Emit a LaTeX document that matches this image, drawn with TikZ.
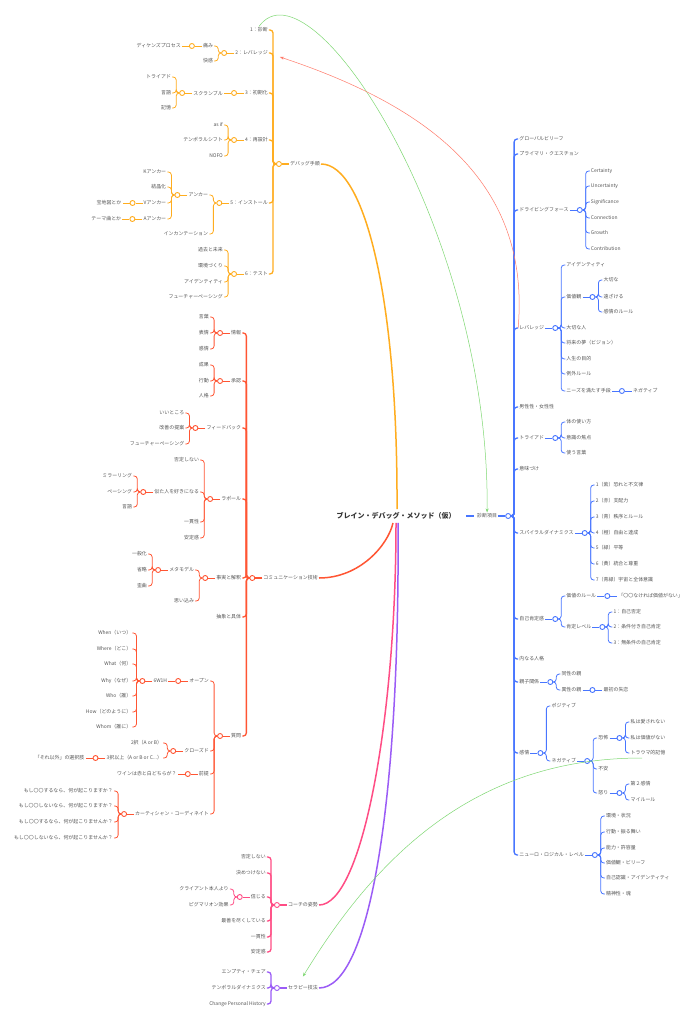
\documentclass[tikz,border=0pt]{standalone}
\usepackage{fontspec}
\setmainfont{Noto Sans CJK JP}
\usetikzlibrary{arrows.meta, positioning}

\definecolor{cOr}{HTML}{FFAD1F}
\definecolor{cRd}{HTML}{FF5533}
\definecolor{cPk}{HTML}{FF4D85}
\definecolor{cPu}{HTML}{9B5CF6}
\definecolor{cBl}{HTML}{4876FF}
\definecolor{cGn}{HTML}{7FD873}
\definecolor{cLk}{HTML}{FF7A6A}
\definecolor{txtgray}{HTML}{555555}
\definecolor{rootgray}{HTML}{333333}
\newcommand\mapfont{\fontsize{4.95}{6}\selectfont}

\begin{document}
\begin{tikzpicture}[x=1pt, y=-1pt,
    lt/.style={anchor=east, inner sep=1pt, text=txtgray, font=\mapfont},
    rt/.style={anchor=west, inner sep=1pt, text=txtgray, font=\mapfont},
    jn/.style={circle, draw, fill=white, minimum size=5pt, inner sep=0pt, line width=0.9pt},
    hub/.style={line width=1.3pt, rounded corners=3pt},
    br/.style={line width=0.8pt, rounded corners=3pt},
    link/.style={line width=0.5pt, -{Stealth[length=4pt, width=3pt]}}
  ]
  \fill[white] (0,0) rectangle (696,1024);
  \useasboundingbox (0,0) rectangle (696,1024);

  % center
  \node[font=\fontsize{7}{8}\selectfont\bfseries, text=rootgray] (root) at (396,516) {ブレイン・デバッグ・メソッド（仮）};

  % --- debug steps (orange)
  \node[lt] (deb) at (321,164) {デバッグ手順};
  \node[jn, draw=cOr, left=7pt of deb] (debj) {};
  \draw[hub, cOr] (deb.west) -- (debj);
  \foreach \y/\t [count=\i] in {30/1：診断, 53/2：レバレッジ, 93/3：初期化, 140/4：再設計, 203/5：インストール, 274/6：テスト} {
    \node[lt] (d\i) at ([xshift=-10pt]debj.center |- 0,\y) {\t};
    \draw[hub, cOr] (debj.west) -- ++(-3,0) |- (d\i.east);
  }
  % 2
  \node[jn, draw=cOr, left=7pt of d2] (d2j) {};
  \draw[br, cOr] (d2.west) -- (d2j);
  \node[lt] (d2a) at ([xshift=-10pt]d2j.center |- 0,46) {痛み};
  \node[lt] (d2b) at ([xshift=-10pt]d2j.center |- 0,61) {快感};
  \foreach \c in {d2a, d2b} \draw[br, cOr] (d2j.west) -- ++(-3,0) |- (\c.east);
  \node[jn, draw=cOr, left=7pt of d2a] (d2aj) {};
  \node[lt] (d2ax) at ([xshift=-10pt]d2aj.center |- 0,46) {ディケンズプロセス};
  \draw[br, cOr] (d2a.west) -- (d2aj) -- (d2ax);
  % 3
  \node[jn, draw=cOr, left=7pt of d3] (d3j) {};
  \node[lt] (d3a) at ([xshift=-10pt]d3j.center |- 0,93) {スクランブル};
  \draw[br, cOr] (d3.west) -- (d3j) -- (d3a);
  \node[jn, draw=cOr, left=7pt of d3a] (d3aj) {};
  \draw[br, cOr] (d3a.west) -- (d3aj);
  \foreach \y/\t [count=\i] in {77/トライアド, 93/言語, 108/記憶} {
    \node[lt] (d3a\i) at ([xshift=-10pt]d3aj.center |- 0,\y) {\t};
    \draw[br, cOr] (d3aj.west) -- ++(-3,0) |- (d3a\i.east);
  }
  % 4
  \node[jn, draw=cOr, left=7pt of d4] (d4j) {};
  \draw[br, cOr] (d4.west) -- (d4j);
  \foreach \y/\t [count=\i] in {125/as if, 140/テンポラルシフト, 156/NOFO} {
    \node[lt] (d4\i) at ([xshift=-10pt]d4j.center |- 0,\y) {\t};
    \draw[br, cOr] (d4j.west) -- ++(-3,0) |- (d4\i.east);
  }
  % 5
  \node[jn, draw=cOr, left=7pt of d5] (d5j) {};
  \draw[br, cOr] (d5.west) -- (d5j);
  \node[lt] (d5a) at ([xshift=-10pt]d5j.center |- 0,195) {アンカー};
  \node[lt] (d5b) at ([xshift=-10pt]d5j.center |- 0,234) {インカンテーション};
  \foreach \c in {d5a, d5b} \draw[br, cOr] (d5j.west) -- ++(-3,0) |- (\c.east);
  \node[jn, draw=cOr, left=7pt of d5a] (d5aj) {};
  \draw[br, cOr] (d5a.west) -- (d5aj);
  \foreach \y/\t [count=\i] in {172/Kアンカー, 187/結晶化, 203/Vアンカー, 219/Aアンカー} {
    \node[lt] (d5a\i) at ([xshift=-10pt]d5aj.center |- 0,\y) {\t};
    \draw[br, cOr] (d5aj.west) -- ++(-3,0) |- (d5a\i.east);
  }
  \node[jn, draw=cOr, left=7pt of d5a3] (d5a3j) {};
  \node[lt] (d5a3x) at ([xshift=-10pt]d5a3j.center |- 0,203) {宝地図とか};
  \draw[br, cOr] (d5a3.west) -- (d5a3j) -- (d5a3x);
  \node[jn, draw=cOr, left=7pt of d5a4] (d5a4j) {};
  \node[lt] (d5a4x) at ([xshift=-10pt]d5a4j.center |- 0,219) {テーマ曲とか};
  \draw[br, cOr] (d5a4.west) -- (d5a4j) -- (d5a4x);
  % 6
  \node[jn, draw=cOr, left=7pt of d6] (d6j) {};
  \draw[br, cOr] (d6.west) -- (d6j);
  \foreach \y/\t [count=\i] in {250/過去と未来, 266/環境づくり, 282/アイデンティティ, 297/フューチャーペーシング} {
    \node[lt] (d6\i) at ([xshift=-10pt]d6j.center |- 0,\y) {\t};
    \draw[br, cOr] (d6j.west) -- ++(-3,0) |- (d6\i.east);
  }

  % --- communication (red)
  \node[lt] (com) at (319,578) {コミュニケーション技術};
  \node[jn, draw=cRd, left=7pt of com] (comj) {};
  \draw[hub, cRd] (com.west) -- (comj);
  \foreach \y/\t [count=\i] in {333/情報, 381/承認, 428/フィードバック, 499/ラポール, 578/事実と解釈, 617/抽象と具体, 736/質問} {
    \node[lt] (c\i) at ([xshift=-10pt]comj.center |- 0,\y) {\t};
    \draw[hub, cRd] (comj.west) -- ++(-3,0) |- (c\i.east);
  }
  \node[jn, draw=cRd, left=7pt of c1] (c1j) {};
  \draw[br, cRd] (c1.west) -- (c1j);
  \foreach \y/\t [count=\i] in {317/言葉, 333/表情, 349/感情} {
    \node[lt] (c1\i) at ([xshift=-10pt]c1j.center |- 0,\y) {\t};
    \draw[br, cRd] (c1j.west) -- ++(-3,0) |- (c1\i.east);
  }
  \node[jn, draw=cRd, left=7pt of c2] (c2j) {};
  \draw[br, cRd] (c2.west) -- (c2j);
  \foreach \y/\t [count=\i] in {365/成果, 381/行動, 396/人格} {
    \node[lt] (c2\i) at ([xshift=-10pt]c2j.center |- 0,\y) {\t};
    \draw[br, cRd] (c2j.west) -- ++(-3,0) |- (c2\i.east);
  }
  \node[jn, draw=cRd, left=7pt of c3] (c3j) {};
  \draw[br, cRd] (c3.west) -- (c3j);
  \foreach \y/\t [count=\i] in {413/いいところ, 428/改善の提案, 444/フューチャーペーシング} {
    \node[lt] (c3\i) at ([xshift=-10pt]c3j.center |- 0,\y) {\t};
    \draw[br, cRd] (c3j.west) -- ++(-3,0) |- (c3\i.east);
  }
  \node[jn, draw=cRd, left=7pt of c4] (c4j) {};
  \draw[br, cRd] (c4.west) -- (c4j);
  \foreach \y/\t [count=\i] in {460/否定しない, 492/似た人を好きになる, 522/一貫性, 538/安定感} {
    \node[lt] (c4\i) at ([xshift=-10pt]c4j.center |- 0,\y) {\t};
    \draw[br, cRd] (c4j.west) -- ++(-3,0) |- (c4\i.east);
  }
  \node[jn, draw=cRd, left=7pt of c42] (c42j) {};
  \draw[br, cRd] (c42.west) -- (c42j);
  \foreach \y/\t [count=\i] in {476/ミラーリング, 492/ペーシング, 507/言語} {
    \node[lt] (c42\i) at ([xshift=-10pt]c42j.center |- 0,\y) {\t};
    \draw[br, cRd] (c42j.west) -- ++(-3,0) |- (c42\i.east);
  }
  \node[jn, draw=cRd, left=7pt of c5] (c5j) {};
  \draw[br, cRd] (c5.west) -- (c5j);
  \foreach \y/\t [count=\i] in {570/メタモデル, 601/思い込み} {
    \node[lt] (c5\i) at ([xshift=-10pt]c5j.center |- 0,\y) {\t};
    \draw[br, cRd] (c5j.west) -- ++(-3,0) |- (c5\i.east);
  }
  \node[jn, draw=cRd, left=7pt of c51] (c51j) {};
  \draw[br, cRd] (c51.west) -- (c51j);
  \foreach \y/\t [count=\i] in {554/一般化, 570/省略, 586/歪曲} {
    \node[lt] (c51\i) at ([xshift=-10pt]c51j.center |- 0,\y) {\t};
    \draw[br, cRd] (c51j.west) -- ++(-3,0) |- (c51\i.east);
  }
  % questions
  \node[jn, draw=cRd, left=7pt of c7] (c7j) {};
  \draw[br, cRd] (c7.west) -- (c7j);
  \foreach \y/\t [count=\i] in {681/オープン, 751/クローズド, 774/前提, 814/カーティシャン・コーディネイト} {
    \node[lt] (c7\i) at ([xshift=-10pt]c7j.center |- 0,\y) {\t};
    \draw[br, cRd] (c7j.west) -- ++(-3,0) |- (c7\i.east);
  }
  \node[jn, draw=cRd, left=7pt of c71] (c71j) {};
  \node[lt] (c71x) at ([xshift=-10pt]c71j.center |- 0,681) {6W1H};
  \draw[br, cRd] (c71.west) -- (c71j) -- (c71x);
  \node[jn, draw=cRd, left=7pt of c71x] (c71xj) {};
  \draw[br, cRd] (c71x.west) -- (c71xj);
  \foreach \y/\t [count=\i] in {633/When（いつ）, 649/Where（どこ）, 664/What（何）, 681/Why（なぜ）, 696/Who（誰）, 712/How（どのように）, 727/Whom（誰に）} {
    \node[lt] (c71x\i) at ([xshift=-10pt]c71xj.center |- 0,\y) {\t};
    \draw[br, cRd] (c71xj.west) -- ++(-3,0) |- (c71x\i.east);
  }
  \node[jn, draw=cRd, left=7pt of c72] (c72j) {};
  \draw[br, cRd] (c72.west) -- (c72j);
  \node[lt] (c721) at ([xshift=-10pt]c72j.center |- 0,743) {2択（A or B）};
  \node[lt] (c722) at ([xshift=-10pt]c72j.center |- 0,758) {3択以上（A or B or C...）};
  \foreach \c in {c721, c722} \draw[br, cRd] (c72j.west) -- ++(-3,0) |- (\c.east);
  \node[jn, draw=cRd, left=7pt of c722] (c722j) {};
  \node[lt] (c722x) at ([xshift=-10pt]c722j.center |- 0,758) {「それ以外」の選択肢};
  \draw[br, cRd] (c722.west) -- (c722j) -- (c722x);
  \node[jn, draw=cRd, left=7pt of c73] (c73j) {};
  \node[lt] (c73x) at ([xshift=-10pt]c73j.center |- 0,774) {ワインは赤と白どちらが？};
  \draw[br, cRd] (c73.west) -- (c73j) -- (c73x);
  \node[jn, draw=cRd, left=7pt of c74] (c74j) {};
  \draw[br, cRd] (c74.west) -- (c74j);
  \foreach \y/\t [count=\i] in {791/もし〇〇するなら、何が起こりますか？, 806/もし〇〇しないなら、何が起こりますか？, 822/もし〇〇するなら、何が起こりませんか？, 838/もし〇〇しないなら、何が起こりませんか？} {
    \node[lt] (c74\i) at ([xshift=-10pt]c74j.center |- 0,\y) {\t};
    \draw[br, cRd] (c74j.west) -- ++(-3,0) |- (c74\i.east);
  }

  % --- coach (pink)
  \node[lt] (coa) at (319,905) {コーチの姿勢};
  \node[jn, draw=cPk, left=7pt of coa] (coaj) {};
  \draw[hub, cPk] (coa.west) -- (coaj);
  \foreach \y/\t [count=\i] in {857/否定しない, 873/決めつけない, 897/信じる, 921/最善を尽くしている, 937/一貫性, 952/安定感} {
    \node[lt] (p\i) at ([xshift=-10pt]coaj.center |- 0,\y) {\t};
    \draw[hub, cPk] (coaj.west) -- ++(-3,0) |- (p\i.east);
  }
  \node[jn, draw=cPk, left=7pt of p3] (p3j) {};
  \draw[br, cPk] (p3.west) -- (p3j);
  \foreach \y/\t [count=\i] in {889/クライアント本人より, 905/ピグマリオン効果} {
    \node[lt] (p3\i) at ([xshift=-10pt]p3j.center |- 0,\y) {\t};
    \draw[br, cPk] (p3j.west) -- ++(-3,0) |- (p3\i.east);
  }

  % --- therapy (purple)
  \node[lt] (the) at (319,988) {セラピー技法};
  \node[jn, draw=cPu, left=7pt of the] (thej) {};
  \draw[hub, cPu] (the.west) -- (thej);
  \foreach \y/\t [count=\i] in {972/エンプティ・チェア, 988/テンポラルダイナミクス, 1004/Change Personal History} {
    \node[lt] (t\i) at ([xshift=-10pt]thej.center |- 0,\y) {\t};
    \draw[hub, cPu] (thej.west) -- ++(-3,0) |- (t\i.east);
  }

  % --- diagnosis (blue)
  \node[rt] (dia) at (476,516) {診断項目};
  \node[jn, draw=cBl, right=7pt of dia] (diaj) {};
  \draw[hub, cBl] (dia.east) -- (diaj);
  \foreach \y/\t [count=\i] in {139/グローバルビリーフ, 154/プライマリ・クエスチョン, 210/ドライビングフォース, 328/レバレッジ, 407/男性性・女性性, 438/トライアド, 469/意味づけ, 533/スパイラルダイナミクス, 619/自己肯定感, 659/内なる人格, 682/親子関係, 753/感情, 855/ニューロ・ロジカル・レベル} {
    \node[rt] (b\i) at ([xshift=10pt]diaj.center |- 0,\y) {\t};
    \draw[hub, cBl] (diaj.east) -- ++(3,0) |- (b\i.west);
  }
  \node[jn, draw=cBl, right=7pt of b3] (b3j) {};
  \draw[br, cBl] (b3.east) -- (b3j);
  \foreach \y/\t [count=\i] in {171/Certainty, 186/Uncertainty, 202/Significance, 218/Connection, 233/Growth, 249/Contribution} {
    \node[rt] (b3\i) at ([xshift=10pt]b3j.center |- 0,\y) {\t};
    \draw[br, cBl] (b3j.east) -- ++(3,0) |- (b3\i.west);
  }
  \node[jn, draw=cBl, right=7pt of b4] (b4j) {};
  \draw[br, cBl] (b4.east) -- (b4j);
  \foreach \y/\t [count=\i] in {265/アイデンティティ, 297/価値観, 328/大切な人, 343/将来の夢（ビジョン）, 359/人生の目的, 374/例外ルール, 391/ニーズを満たす手段} {
    \node[rt] (b4\i) at ([xshift=10pt]b4j.center |- 0,\y) {\t};
    \draw[br, cBl] (b4j.east) -- ++(3,0) |- (b4\i.west);
  }
  \node[jn, draw=cBl, right=7pt of b42] (b42j) {};
  \draw[br, cBl] (b42.east) -- (b42j);
  \foreach \y/\t [count=\i] in {280/大切な, 297/遠ざける, 312/感情のルール} {
    \node[rt] (b42\i) at ([xshift=10pt]b42j.center |- 0,\y) {\t};
    \draw[br, cBl] (b42j.east) -- ++(3,0) |- (b42\i.west);
  }
  \node[jn, draw=cBl, right=7pt of b47] (b47j) {};
  \node[rt] (b47x) at ([xshift=10pt]b47j.center |- 0,391) {ネガティブ};
  \draw[br, cBl] (b47.east) -- (b47j) -- (b47x);
  \node[jn, draw=cBl, right=7pt of b6] (b6j) {};
  \draw[br, cBl] (b6.east) -- (b6j);
  \foreach \y/\t [count=\i] in {422/体の使い方, 438/意識の焦点, 453/使う言葉} {
    \node[rt] (b6\i) at ([xshift=10pt]b6j.center |- 0,\y) {\t};
    \draw[br, cBl] (b6j.east) -- ++(3,0) |- (b6\i.west);
  }
  \node[jn, draw=cBl, right=7pt of b8] (b8j) {};
  \draw[br, cBl] (b8.east) -- (b8j);
  \foreach \y/\t [count=\i] in {485/1（紫）恐れと不文律, 501/2（赤）支配力, 517/3（青）秩序とルール, 533/4（橙）自由と達成, 548/5（緑）平等, 564/6（黄）統合と尊重, 580/7（青緑）宇宙と全体意識} {
    \node[rt] (b8\i) at ([xshift=10pt]b8j.center |- 0,\y) {\t};
    \draw[br, cBl] (b8j.east) -- ++(3,0) |- (b8\i.west);
  }
  \node[jn, draw=cBl, right=7pt of b9] (b9j) {};
  \draw[br, cBl] (b9.east) -- (b9j);
  \foreach \y/\t [count=\i] in {596/価値のルール, 627/肯定レベル} {
    \node[rt] (b9\i) at ([xshift=10pt]b9j.center |- 0,\y) {\t};
    \draw[br, cBl] (b9j.east) -- ++(3,0) |- (b9\i.west);
  }
  \node[jn, draw=cBl, right=7pt of b91] (b91j) {};
  \node[rt] (b91x) at ([xshift=10pt]b91j.center |- 0,596) {「〇〇なければ価値がない」};
  \draw[br, cBl] (b91.east) -- (b91j) -- (b91x);
  \node[jn, draw=cBl, right=7pt of b92] (b92j) {};
  \draw[br, cBl] (b92.east) -- (b92j);
  \foreach \y/\t [count=\i] in {612/1：自己否定, 627/2：条件付き自己肯定, 643/3：無条件の自己肯定} {
    \node[rt] (b92\i) at ([xshift=10pt]b92j.center |- 0,\y) {\t};
    \draw[br, cBl] (b92j.east) -- ++(3,0) |- (b92\i.west);
  }
  \node[jn, draw=cBl, right=7pt of b11] (b11j) {};
  \draw[br, cBl] (b11.east) -- (b11j);
  \foreach \y/\t [count=\i] in {674/同性の親, 690/異性の親} {
    \node[rt] (b11\i) at ([xshift=10pt]b11j.center |- 0,\y) {\t};
    \draw[br, cBl] (b11j.east) -- ++(3,0) |- (b11\i.west);
  }
  \node[jn, draw=cBl, right=7pt of b112] (b112j) {};
  \node[rt] (b112x) at ([xshift=10pt]b112j.center |- 0,690) {最初の失恋};
  \draw[br, cBl] (b112.east) -- (b112j) -- (b112x);
  \node[jn, draw=cBl, right=7pt of b12] (b12j) {};
  \draw[br, cBl] (b12.east) -- (b12j);
  \foreach \y/\t [count=\i] in {706/ポジティブ, 761/ネガティブ} {
    \node[rt] (b12\i) at ([xshift=10pt]b12j.center |- 0,\y) {\t};
    \draw[br, cBl] (b12j.east) -- ++(3,0) |- (b12\i.west);
  }
  \node[jn, draw=cBl, right=7pt of b122] (b122j) {};
  \draw[br, cBl] (b122.east) -- (b122j);
  \foreach \y/\t [count=\i] in {738/恐怖, 769/不安, 793/怒り} {
    \node[rt] (b122\i) at ([xshift=10pt]b122j.center |- 0,\y) {\t};
    \draw[br, cBl] (b122j.east) -- ++(3,0) |- (b122\i.west);
  }
  \node[jn, draw=cBl, right=7pt of b1221] (b1221j) {};
  \draw[br, cBl] (b1221.east) -- (b1221j);
  \foreach \y/\t [count=\i] in {722/私は愛されない, 738/私は価値がない, 753/トラウマ的記憶} {
    \node[rt] (b1221\i) at ([xshift=10pt]b1221j.center |- 0,\y) {\t};
    \draw[br, cBl] (b1221j.east) -- ++(3,0) |- (b1221\i.west);
  }
  \node[jn, draw=cBl, right=7pt of b1223] (b1223j) {};
  \draw[br, cBl] (b1223.east) -- (b1223j);
  \foreach \y/\t [count=\i] in {784/第２感情, 800/マイルール} {
    \node[rt] (b1223\i) at ([xshift=10pt]b1223j.center |- 0,\y) {\t};
    \draw[br, cBl] (b1223j.east) -- ++(3,0) |- (b1223\i.west);
  }
  \node[jn, draw=cBl, right=7pt of b13] (b13j) {};
  \draw[br, cBl] (b13.east) -- (b13j);
  \foreach \y/\t [count=\i] in {816/環境・状況, 832/行動・振る舞い, 848/能力・許容量, 863/価値観・ビリーフ, 878/自己認識・アイデンティティ, 894/精神性・魂} {
    \node[rt] (b13\i) at ([xshift=10pt]b13j.center |- 0,\y) {\t};
    \draw[br, cBl] (b13j.east) -- ++(3,0) |- (b13\i.west);
  }

  % main branches
  \draw[cOr, line width=1.5pt] ([xshift=1pt]root.north) .. controls (398,300) and (365,164) .. (deb.east);
  \draw[cRd, line width=1.5pt] ([xshift=-3pt]root.south) .. controls (388,545) and (360,578) .. (com.east);
  \draw[cPk, line width=1.5pt] (root.south) .. controls (396,720) and (362,905) .. (coa.east);
  \draw[cPu, line width=1.5pt] ([xshift=2pt]root.south) .. controls (400,800) and (370,988) .. (the.east);
  \draw[cBl, line width=1.5pt, shorten <=7pt, shorten >=2pt] (root.east) -- (dia.west);

  % relations
  \coordinate (negt) at (642,758);
  \draw[link, cGn] (d1.north) .. controls (310,-45) and (490,230) .. (dia.north);
  \draw[link, cLk] (b4.west) .. controls (530,190) and (440,110) .. ([xshift=11pt, yshift=-4pt]d2.east);
  \draw[link, cGn] (negt) .. controls (480,758) and (380,850) .. ([yshift=8pt]the.north);
\end{tikzpicture}
\end{document}
